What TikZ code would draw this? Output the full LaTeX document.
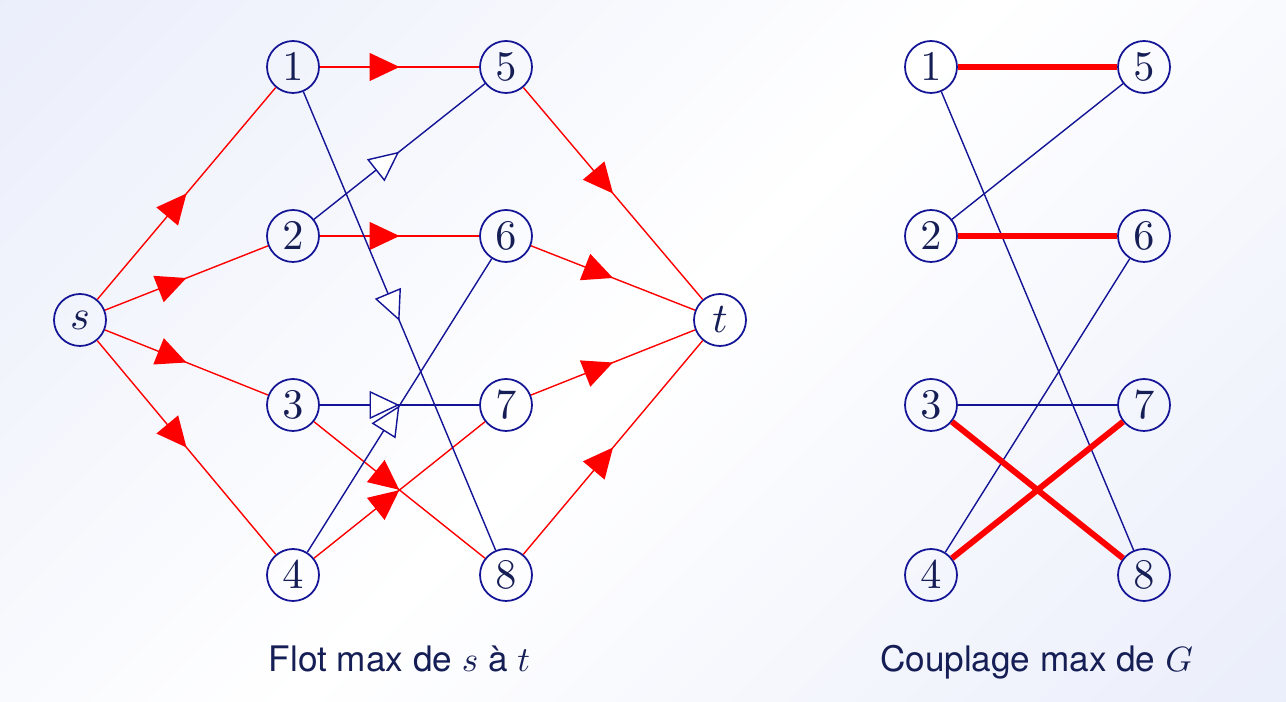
\documentclass[tikz,border=0pt]{standalone}
\usepackage{graphicx}
\usepackage{fontspec}
\setmainfont{TeX Gyre Heros}
\usetikzlibrary{arrows.meta,decorations.markings}

\definecolor{bglav}{RGB}{226,231,249}
\definecolor{ink}{RGB}{22,30,86}
\definecolor{navy}{RGB}{20,20,150}

\pgfdeclarehorizontalshading{bgfade}{100bp}{color(0bp)=(bglav); color(50bp)=(white); color(100bp)=(bglav)}

% chiffres en 10pt agrandis
\newcommand{\vx}[1]{\scalebox{2.4}{$#1$}}
\newcommand{\captxt}[1]{\scalebox{2}{#1}}

\tikzset{
  vertex/.style={circle, draw=navy, line width=1pt, minimum size=1.04cm, inner sep=0pt,
    text=ink, font=\fontsize{10}{12}\selectfont},
  flow/.style={draw=red, line width=0.8pt, postaction={decorate},
    decoration={markings, mark=at position 0.5 with {\arrow{Triangle[length=0.6cm,width=0.56cm]}}}},
  back/.style={draw=navy, line width=0.8pt, postaction={decorate},
    decoration={markings, mark=at position 0.5 with {\arrow{Triangle[length=0.6cm,width=0.56cm,fill=white]}}}},
  plain/.style={draw=navy, line width=0.8pt},
  matched/.style={draw=red, line width=3.4pt},
  caption/.style={anchor=base, text=ink, font=\fontsize{10}{12}\selectfont}
}

\begin{document}
\begin{tikzpicture}[x=1cm,y=1cm]

% fond
\fill[shading=bgfade, shading angle=-45] (0,0) rectangle (25.72,14.04);
\useasboundingbox (0,0) rectangle (25.72,14.04);

% reseau de flot
\node[vertex] (s) at (1.60,7.64) {\vx{s}};
\node[vertex] (t) at (14.40,7.64) {\vx{t}};
\foreach \n/\y in {1/12.70, 2/9.32, 3/5.94, 4/2.54}{
    \node[vertex] (a\n) at (5.86,\y) {\vx{\n}};
}
\foreach \n/\y in {5/12.70, 6/9.32, 7/5.94, 8/2.54}{
    \node[vertex] (b\n) at (10.12,\y) {\vx{\n}};
}

\foreach \n in {1,2,3,4}{
    \draw[flow] (s) -- (a\n);
}
\foreach \n in {5,6,7,8}{
    \draw[flow] (b\n) -- (t);
}
\draw[flow] (a1) -- (b5);
\draw[flow] (a2) -- (b6);
\draw[flow] (a3) -- (b8);
\draw[flow] (a4) -- (b7);

\draw[back] (a2) -- (b5);
\draw[back] (a1) -- (b8);
\draw[back] (a3) -- (b7);
\draw[back] (a4) -- (b6);

\node[caption] (flotcap) at (7.99,0.60) {\captxt{Flot max de $s$ à $t$}};

% couplage
\foreach \n/\y in {1/12.70, 2/9.32, 3/5.94, 4/2.54}{
    \node[vertex] (c\n) at (18.62,\y) {\vx{\n}};
}
\foreach \n/\y in {5/12.70, 6/9.32, 7/5.94, 8/2.54}{
    \node[vertex] (d\n) at (22.88,\y) {\vx{\n}};
}

\draw[plain] (c1) -- (d8);
\draw[plain] (c2) -- (d5);
\draw[plain] (c3) -- (d7);
\draw[plain] (c4) -- (d6);

\draw[matched] (c1) -- (d5);
\draw[matched] (c2) -- (d6);
\draw[matched] (c3) -- (d8);
\draw[matched] (c4) -- (d7);

\node[caption] (coupcap) at (20.73,0.60) {\captxt{Couplage max de $G$}};

\end{tikzpicture}
\end{document}
